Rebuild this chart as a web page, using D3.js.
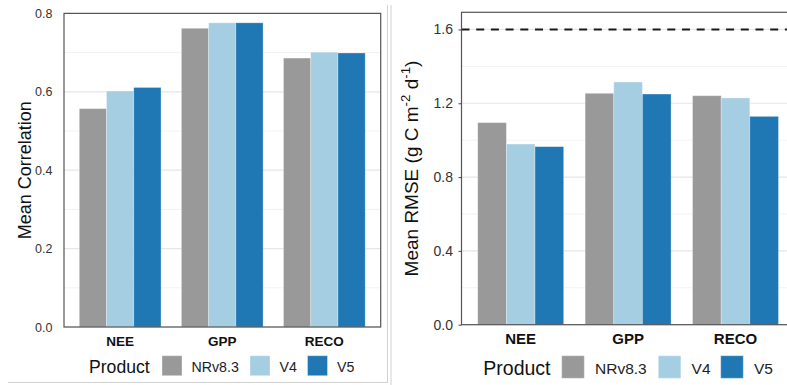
<!DOCTYPE html>
<html><head><meta charset="utf-8">
<script src="https://cdn.jsdelivr.net/npm/d3@7"></script>
<style>body{margin:0;background:#fff}svg{display:block;font-family:"Liberation Sans",Arial,Helvetica,sans-serif}</style>
</head><body>
<svg id="c" width="787" height="385"></svg>
<script>
const categories = ["NEE", "GPP", "RECO"];
const products = ["NRv8.3", "V4", "V5"];
const colors = ["#999999", "#a6cee3", "#1f78b4"];
const corrNRv83 = [0.557, 0.762, 0.686];
const corrV4 = [0.602, 0.776, 0.701];
const corrV5 = [0.611, 0.776, 0.699];
const rmseNRv83 = [1.095, 1.254, 1.241];
const rmseV4 = [0.979, 1.315, 1.229];
const rmseV5 = [0.965, 1.250, 1.129];
const corrTicks = [0, 0.2, 0.4, 0.6, 0.8];
const corrMinor = [0.1, 0.3, 0.5, 0.7];
const rmseTicks = [0, 0.4, 0.8, 1.2, 1.6];
const rmseMinor = [0.2, 0.6, 1.0, 1.4];
const rmseRef = 1.6;

const svg = d3.select("#c");

// light image borders
svg.append("line").attr("x1",387.5).attr("x2",387.5).attr("y1",5).attr("y2",383).attr("stroke","#d0d0d0");
svg.append("line").attr("x1",8).attr("x2",387.5).attr("y1",382.5).attr("y2",382.5).attr("stroke","#d0d0d0");
svg.append("line").attr("x1",391).attr("x2",391).attr("y1",5).attr("y2",385).attr("stroke","#d0d0d0");

function panel(cfg){
  const g = svg.append("g");
  const y = d3.scaleLinear().domain(cfg.domain).range([cfg.bottom, cfg.top]);
  const x = d3.scaleBand().domain(categories).range(cfg.xr).paddingInner(0.2).paddingOuter(0.1);
  const xs = d3.scaleBand().domain(products).range([0, x.bandwidth()]);
  const color = d3.scaleOrdinal().domain(products).range(colors);
  // grid
  g.selectAll(".mn").data(cfg.minor).join("line")
    .attr("x1",cfg.left).attr("x2",cfg.right).attr("y1",d=>y(d)).attr("y2",d=>y(d))
    .attr("stroke","#f2f2f2").attr("stroke-width",1);
  g.selectAll(".mj").data(cfg.ticks).join("line")
    .attr("x1",cfg.left).attr("x2",cfg.right).attr("y1",d=>y(d)).attr("y2",d=>y(d))
    .attr("stroke","#e6e6e6").attr("stroke-width",1.2);
  // bars
  const rows = [];
  categories.forEach((c,i)=>products.forEach((p,j)=>rows.push({c,p,v:cfg.series[j][i]})));
  g.selectAll(".bar").data(rows).join("rect")
    .attr("x",d=>x(d.c)+xs(d.p)).attr("width",xs.bandwidth())
    .attr("y",d=>y(d.v)).attr("height",d=>y(0)-y(d.v))
    .attr("fill",d=>color(d.p)).attr("stroke","#ffffff").attr("stroke-opacity",0.35).attr("stroke-width",0.8);
  // reference line
  if (cfg.ref!=null){
    g.append("line").attr("x1",cfg.left).attr("x2",cfg.right).attr("y1",y(cfg.ref)).attr("y2",y(cfg.ref))
      .attr("stroke","#1a1a1a").attr("stroke-width",2).attr("stroke-dasharray","8,6.7");
  }
  // frame
  g.append("rect").attr("x",cfg.left).attr("y",cfg.top).attr("width",cfg.right-cfg.left).attr("height",cfg.bottom-cfg.top)
    .attr("fill","none").attr("stroke","#555").attr("stroke-width",1.2);
  // y axis
  const ya = d3.axisLeft(y).tickValues(cfg.ticks).tickFormat(d3.format(".1f")).tickSize(cfg.tickLen).tickPadding(cfg.tickPad);
  const ag = g.append("g").attr("transform",`translate(${cfg.left},0)`).call(ya);
  ag.select(".domain").remove();
  ag.selectAll(".tick line").attr("stroke","#444");
  ag.selectAll("text").attr("font-size",cfg.tickFs).attr("fill","#333").attr("font-family","Liberation Sans, Arial, sans-serif");
  // x axis labels
  const xa = d3.axisBottom(x).tickSize(0).tickPadding(cfg.xPad);
  const xg = g.append("g").attr("transform",`translate(0,${cfg.bottom})`).call(xa);
  xg.select(".domain").remove();
  xg.selectAll("text").attr("font-size",cfg.catFs).attr("font-weight","bold").attr("fill","#111").attr("font-family","Liberation Sans, Arial, sans-serif");
  // y title
  const t = g.append("text").attr("transform",`translate(${cfg.titleX},${(cfg.top+cfg.bottom)/2}) rotate(-90)`)
    .attr("text-anchor","middle").attr("font-size",cfg.titleFs).attr("fill","#111");
  cfg.title.forEach(part=>{
    const ts = t.append("tspan").text(part.t);
    if (part.sup){ ts.attr("font-size",cfg.titleFs*0.7).attr("dy",-cfg.titleFs*0.38); }
    else if (part.after){ ts.attr("dy",cfg.titleFs*0.38); }
  });
  // legend
  const L = cfg.legend;
  g.append("text").attr("x",L.x).attr("y",L.base).attr("font-size",L.titleFs).attr("fill","#111").text("Product");
  products.forEach((p,j)=>{
    g.append("rect").attr("x",L.keys[j]).attr("y",L.cy-L.size/2).attr("width",L.size).attr("height",L.size)
      .attr("fill",color(p)).attr("stroke","#ffffff").attr("stroke-opacity",0.35);
    g.append("text").attr("x",L.keys[j]+L.size+L.gap).attr("y",L.base-1).attr("font-size",L.fs).attr("fill","#222").text(p);
  });
}

panel({
  domain:[0,0.8], top:13.4, bottom:327, left:64, right:380.7, xr:[69.1,375.4],
  series:[corrNRv83,corrV4,corrV5], ticks:corrTicks, minor:corrMinor, ref:null,
  tickLen:0, tickPad:11.5, tickFs:12.5, xPad:9, catFs:13.5,
  title:[{t:"Mean Correlation"}], titleX:30.5, titleFs:18,
  legend:{x:89, base:372.7, titleFs:17.6, fs:14.2, size:20, cy:365.7, keys:[162,250,307.5], gap:9.5}
});
panel({
  domain:[0,1.693], top:12.3, bottom:324.7, left:461.5, right:800, xr:[467,789.2],
  series:[rmseNRv83,rmseV4,rmseV5], ticks:rmseTicks, minor:rmseMinor, ref:rmseRef,
  tickLen:3, tickPad:5.5, tickFs:14, xPad:9, catFs:15,
  title:[{t:"Mean RMSE (g C m"},{t:"-2",sup:true},{t:" d",after:true},{t:"-1",sup:true},{t:")",after:true}], titleX:417.5, titleFs:19,
  legend:{x:483.3, base:374.5, titleFs:19.5, fs:15.5, size:22.6, cy:367, keys:[561.7,658.3,720.7], gap:10.7}
});
</script>
</body></html>
